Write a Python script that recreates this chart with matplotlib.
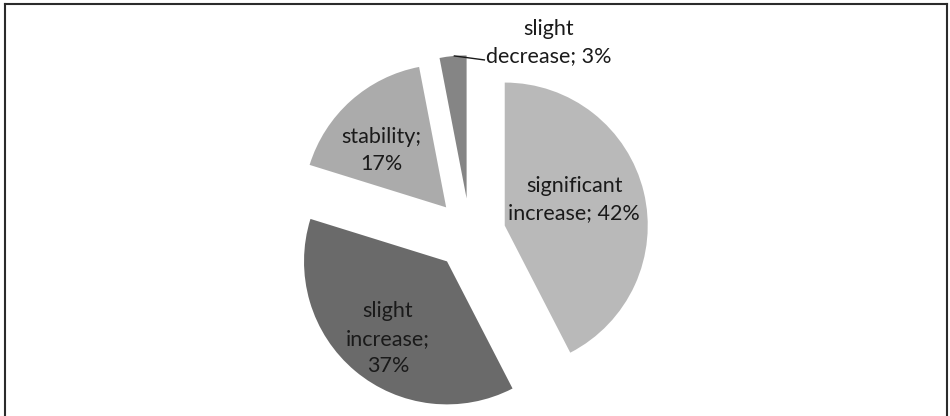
import matplotlib
matplotlib.use("Agg")
import matplotlib.pyplot as plt
import numpy as np
from matplotlib.lines import Line2D

# data
categories = ["significant\nincrease; 42%", "slight\nincrease;\n37%",
              "stability;\n17%", "slight\ndecrease; 3%"]
shares = [42, 37, 17, 3]

colors = ["#b9b9b9", "#6a6a6a", "#ababab", "#858585"]
# inner label placement relative to each wedge apex: (distance, angle cw from top)
label_pos = [(0.52, 69.4), (0.68, 217.4), (0.605, 311.3)]
explode = 0.25

plt.rcParams['font.family'] = ['Lato', 'DejaVu Sans']

fig = plt.figure(figsize=(9.5, 4.16), dpi=100)
ax = fig.add_axes([0, 0, 1, 1])

ax.pie(shares, colors=colors, startangle=90, counterclock=False,
       explode=[explode] * len(shares), radius=1.0,
       wedgeprops=dict(linewidth=0), normalize=True)
# pie() resets the limits, so set them afterwards
ax.set_xlim(-470 / 143, 480 / 143)
ax.set_ylim(-182 / 143, 234 / 143)
ax.set_aspect('equal')
ax.axis('off')

fs = 15.5
px = 1 / 143.0
total = float(sum(shares))
start = 0.0
for i, (lab, v) in enumerate(zip(categories, shares)):
    frac = v / total * 360.0
    mid = np.radians(start + frac / 2)
    apex = explode * np.array([np.sin(mid), np.cos(mid)])
    if i < 3:
        r, t = label_pos[i]
        t = np.radians(t)
        p = apex + r * np.array([np.sin(t), np.cos(t)])
        ax.text(p[0], p[1], lab, ha='center', va='center', fontsize=fs,
                color='#1a1a1a', linespacing=1.45)
    else:
        a = np.radians(start + frac * 0.55)
        p0 = apex + np.array([np.sin(a), np.cos(a)])
        p1 = p0 + np.array([30 * px, -4 * px])
        ax.plot([p0[0], p1[0]], [p0[1], p1[1]], color='#1a1a1a', lw=1.0)
        ax.text(p0[0] + 94 * px, p0[1] + 13 * px, lab, ha='center',
                va='center', fontsize=fs, color='#1a1a1a', linespacing=1.45)
    start += frac

# outer frame (open at the bottom)
W, H = 950.0, 416.0
fc = '#2b2b2b'
fig.add_artist(Line2D([5 / W, 5 / W], [0, 1 - 3.5 / H], color=fc, lw=1.5,
                      transform=fig.transFigure))
fig.add_artist(Line2D([947 / W, 947 / W], [0, 1 - 3.5 / H], color=fc, lw=1.5,
                      transform=fig.transFigure))
fig.add_artist(Line2D([5 / W, 947 / W], [1 - 3.5 / H, 1 - 3.5 / H], color=fc,
                      lw=1.5, transform=fig.transFigure))

fig.savefig("out.png", dpi=100, facecolor='white')
